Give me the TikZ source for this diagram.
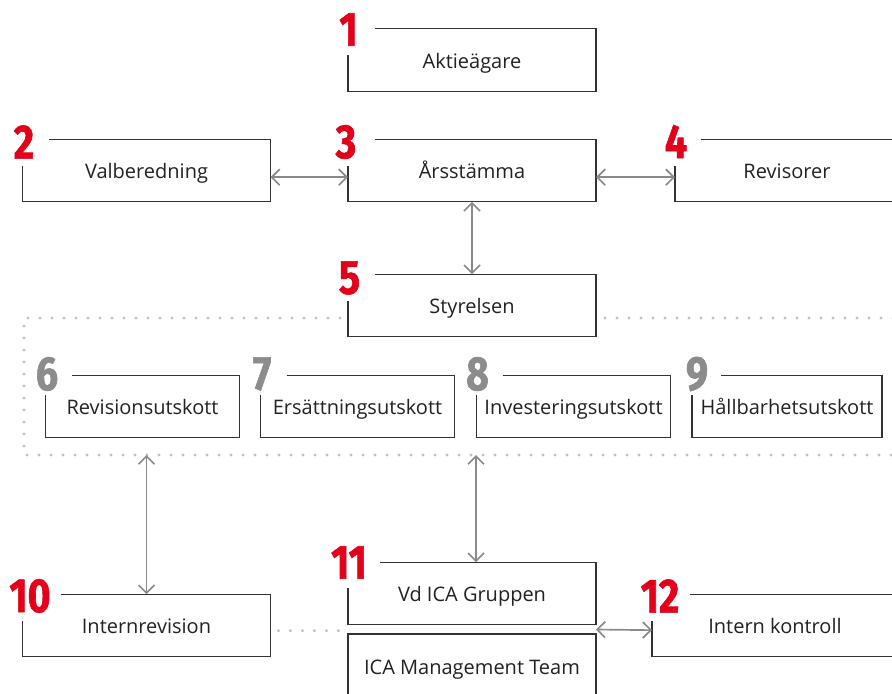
\documentclass[tikz,border=0pt]{standalone}
\usepackage{fontspec}
\setmainfont{Open Sans}
\newfontfamily\numfont{Fira Sans}[FakeStretch=0.82,BoldFeatures={FakeBold=1.2}]
\usepackage{tikz}
\usetikzlibrary{arrows.meta}
\usepackage{xcolor}
\definecolor{icared}{HTML}{E2001A}
\definecolor{numgray}{HTML}{8C8C8C}
\definecolor{arrowgray}{HTML}{8A8A8A}
\definecolor{dotgray}{HTML}{C2C2C2}
\definecolor{linegray}{HTML}{333333}
\definecolor{textgray}{HTML}{222222}

% box outline with an open top left corner for the number
\newcommand{\openbox}[3]{%
  \draw[boxline] ([xshift=#2]#1.north west) -- (#1.north east) -- (#1.south east)
    -- (#1.south west) -- ([yshift=-#3]#1.north west);}

\begin{document}
\begin{tikzpicture}[x=0.75pt, y=-0.75pt, >={Straight Barb[length=6pt,width=12pt]},
  every node/.style={font=\fontsize{15}{18}\selectfont, text=textgray},
  box/.style={rectangle, inner sep=0pt, outer sep=0pt, text height=12pt, text depth=0pt,
    minimum width=186pt, minimum height=47pt},
  num/.style={font=\numfont\bfseries\fontsize{36}{36}\selectfont, text=icared, inner sep=0pt},
  graynum/.style={num, text=numgray},
  boxline/.style={draw=linegray, line width=0.9pt},
  conn/.style={<->, draw=arrowgray, line width=1.25pt},
  dots/.style={draw=dotgray, line width=2.4pt, line cap=round, dash pattern=on 0pt off 9pt}]

\useasboundingbox[fill=white] (0,0) rectangle (892,693);

% Top
\node[box] at (472,60) (aktie) {Aktieägare};
\node[box] at (146.5,170.5) (valb) {Valberedning};
\node[box] at (472,170.5) (arsst) {Årsstämma};
\node[box,minimum width=168pt] at (787,170.5) (rev) {Revisorer};
\node[box] at (472,305.5) (styr) {Styrelsen};

% Committees
\node[box,minimum width=146pt,minimum height=46pt] at (142.5,406.5) (revu) {Revisionsutskott};
\node[box,minimum width=146pt,minimum height=46pt] at (357.5,406.5) (ersu) {Ersättningsutskott};
\node[box,minimum width=146pt,minimum height=46pt] at (573.5,406.5) (invu) {Investeringsutskott};
\node[box,minimum width=142.5pt,minimum height=46pt] at (787,406.5) (hallu) {Hållbarhetsutskott};

% Bottom
\node[box] at (146.5,625.5) (intrev) {Internrevision};
\node[box] at (472,593.5) (vd) {Vd ICA Gruppen};
\node[box,minimum height=48pt] at (472,666) (mt) {ICA Management Team};
\node[box,minimum width=184.5pt] at (775,625.5) (intk) {Intern kontroll};

% Numbers
\node[num] at (348.5,29.5) (n1) {1};
\node[num] at (24,142) (n2) {2};
\node[num] at (346,142) (n3) {3};
\node[num] at (676,141.5) (n4) {4};
\node[num] at (349.5,278) (n5) {5};
\node[graynum] at (47,374) (n6) {6};
\node[graynum] at (262,374) (n7) {7};
\node[graynum] at (477.5,374) (n8) {8};
\node[graynum] at (697,374) (n9) {9};
\node[num] at (30,596) (n10) {10};
\node[num] at (349,562.5) (n11) {11};
\node[num] at (660,596) (n12) {12};

% Box outlines
\openbox{aktie}{20pt}{19.5pt}
\openbox{valb}{20pt}{20pt}
\openbox{arsst}{20pt}{20pt}
\openbox{rev}{19.5pt}{20pt}
\openbox{styr}{20pt}{20pt}
\openbox{revu}{20pt}{14pt}
\openbox{ersu}{20pt}{14pt}
\openbox{invu}{20pt}{14pt}
\openbox{hallu}{22pt}{14pt}
\openbox{intrev}{28.5pt}{20pt}
\openbox{vd}{24pt}{19pt}
\openbox{intk}{28.5pt}{20pt}
\draw[boxline] (mt.south west) -- (mt.north west) -- (mt.north east) -- (mt.south east);

% Board frame
\coordinate (fb) at (0,455);
\draw[dots] (340,318) -- (24,318) -- (24,455) -- (900,455);
\draw[dots] (605,318) -- (900,318);
\draw[dots] ([xshift=6pt,yshift=-4pt]intrev.east) -- ([xshift=-6pt,yshift=-4pt]intrev.east -| vd.west);

% Connections
\draw[conn] ([yshift=-5pt]valb.east) -- ([yshift=-5pt]arsst.west);
\draw[conn] ([yshift=-5pt]arsst.east) -- ([yshift=-5pt]rev.west);
\draw[conn] (arsst.south) -- (styr.north);
\draw[conn] (intrev.north |- fb) -- (intrev.north);
\draw[conn] ([xshift=3pt]vd.north |- fb) -- ([xshift=3pt]vd.north);
\draw[conn] ([yshift=-3.5pt]vd.south east) -- ([yshift=-3.5pt]intk.west);

\end{tikzpicture}
\end{document}
